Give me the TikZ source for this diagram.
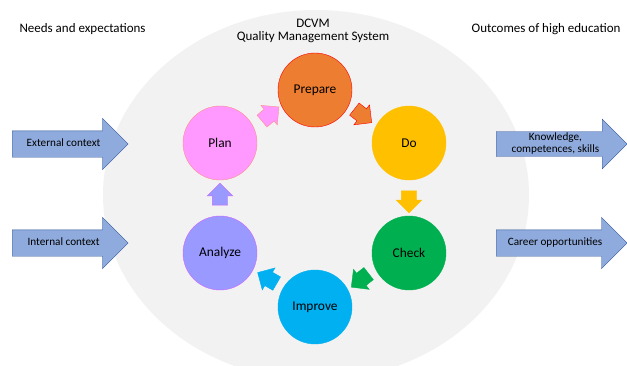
\documentclass[tikz,border=0pt]{standalone}
\usepackage{fontspec}
\setmainfont{Carlito}
\usepackage{tikz}
\usetikzlibrary{shapes.arrows,calc}
\definecolor{bgray}{HTML}{F2F2F2}
\definecolor{arrowblue}{HTML}{8FAADC}
\definecolor{arrowline}{HTML}{2F5597}
\definecolor{cplan}{HTML}{FF99FF}
\definecolor{cplanline}{HTML}{FF8C8C}
\definecolor{cprep}{HTML}{ED7D31}
\definecolor{cdo}{HTML}{FFC000}
\definecolor{ccheck}{HTML}{00B050}
\definecolor{cimpr}{HTML}{00B0F0}
\definecolor{canal}{HTML}{9999FF}
\definecolor{canalline}{HTML}{CC66FF}
\tikzset{stage node/.style={circle,draw,minimum size=74pt,inner sep=0pt,font=\fontsize{13.4}{15}\selectfont}}
\tikzset{turn arrow/.style={single arrow,draw,minimum height=22pt,single arrow head extend=5pt,inner xsep=0pt,inner ysep=7.5pt}}
\tikzset{side arrow/.style={single arrow,draw=arrowline,fill=arrowblue,single arrow head extend=12.5pt,inner xsep=2pt,inner ysep=7.75pt,text height=8pt,text depth=2.5pt,font=\fontsize{11.2}{12}\selectfont}}
\tikzset{heading/.style={font=\fontsize{13}{14}\selectfont}}

\begin{document}
\begin{tikzpicture}[x=1pt,y=-1pt]
            \useasboundingbox (0,0) rectangle (627,365);
            \begin{scope}
            \clip (0,0) rectangle (627,365);
            \fill[bgray] (316,195) ellipse [x radius=213, y radius=185];
            \end{scope}

            \node[heading] (dcvm) at (313,23) {DCVM};
            \node[heading] (qms) at (313,37) {Quality Management System};
            \node[heading, anchor=west] (needs) at (16,29) {Needs and expectations};
            \node[heading, anchor=east] (outcomes) at (624,29) {Outcomes of high education};

            \node[stage node, fill=cprep, draw=red] (prepare) at (315,90) {Prepare};
            \node[stage node, fill=cdo, draw=cdo] (do) at (409,143) {Do};
            \node[stage node, fill=ccheck, draw=ccheck] (check) at (409,253) {Check};
            \node[stage node, fill=cimpr, draw=cimpr] (improve) at (315,307) {Improve};
            \node[stage node, fill=canal, draw=canalline] (analyze) at (220,253) {Analyze};
            \node[stage node, fill=cplan, draw=cplanline] (plan) at (220,143) {Plan};

            \node[turn arrow, fill=cplan, draw=cplanline, rotate=40] (a1) at ($(plan)!0.5!(prepare)$) {};
            \node[turn arrow, fill=cprep, draw=red, rotate=-38] (a2) at ($(prepare)!0.5!(do)+(-2,-3)$) {};
            \node[turn arrow, fill=cdo, draw=cdo, rotate=-90] (a3) at ($(do)!0.5!(check)$) {};
            \node[turn arrow, fill=ccheck, draw=ccheck, rotate=-142] (a4) at ($(check)!0.5!(improve)+(1,-2)$) {};
            \node[turn arrow, fill=cimpr, draw=cimpr, rotate=150] (a5) at ($(improve)!0.5!(analyze)+(3,0)$) {};
            \node[turn arrow, fill=canal, draw=canalline, rotate=90] (a6) at ($(analyze)!0.5!(plan)$) {};

            \node[side arrow, minimum height=116pt, anchor=tail] (external) at (12,144) {External context};
            \node[side arrow, minimum height=116pt, anchor=tail] (internal) at (12,243) {Internal context};
            \node[side arrow, minimum height=131pt, anchor=tail, align=center, text height=, text depth=, inner ysep=1.5pt] (knowledge) at (496,144) {Knowledge,\\competences, skills};
            \node[side arrow, minimum height=131pt, anchor=tail] (career) at (496,243) {Career opportunities};
        \end{tikzpicture}
\end{document}
